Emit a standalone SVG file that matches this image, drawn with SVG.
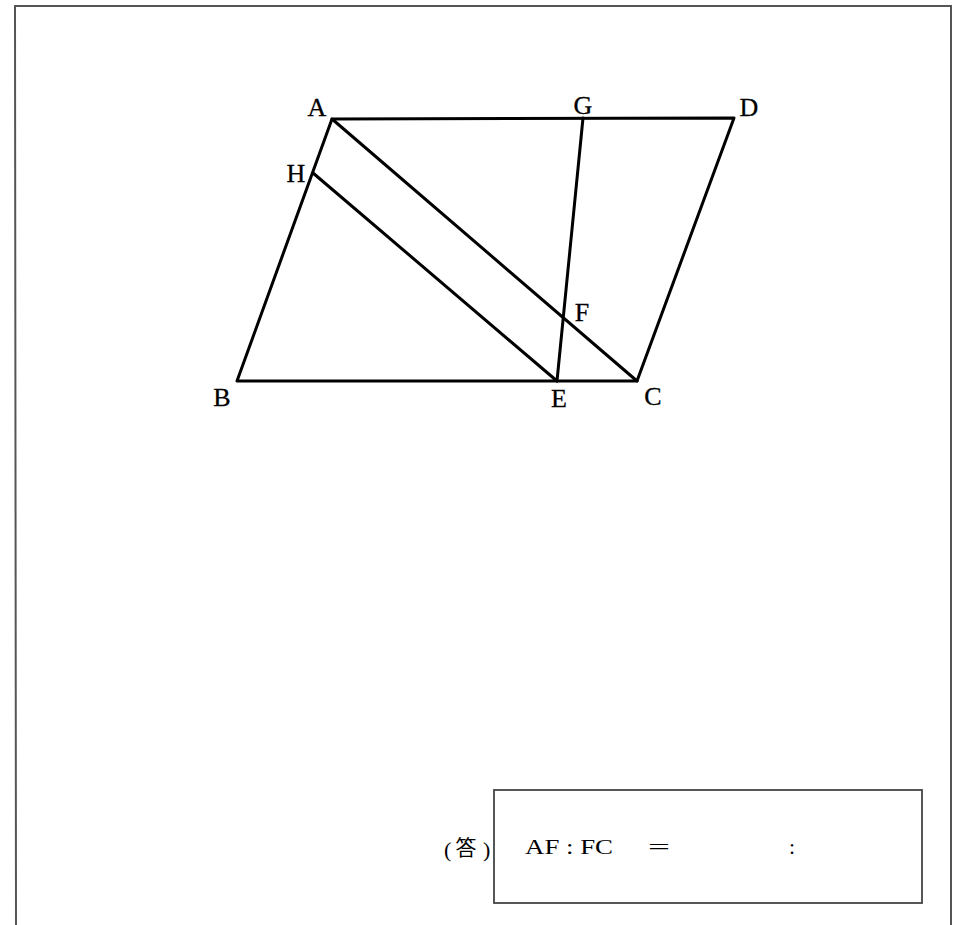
<svg xmlns="http://www.w3.org/2000/svg" width="965" height="925" viewBox="0 0 965 925">
<style>
.frame{fill:none;stroke:#555;stroke-width:2}
.seg{fill:none;stroke:#000;stroke-width:3;stroke-linecap:round;stroke-linejoin:round}
.lbl{font-family:"Liberation Serif","Times New Roman",serif;font-size:26px;fill:#000;text-anchor:middle;stroke:#000;stroke-width:0.3}
.ans{font-family:"Liberation Serif","Times New Roman",serif;font-size:22px;fill:#000}
.box{fill:none;stroke:#444;stroke-width:1.8}
</style>
<rect width="965" height="925" fill="#fff"/>
<path class="frame" d="M16,925 L15,6 L951,6 L951,925"/>
<g id="connectors">
<polygon class="seg" points="332,119 734,118 637,381 237,381"/>
<line class="seg" x1="332" y1="119" x2="637" y2="381"/>
<line class="seg" x1="313" y1="173" x2="557" y2="381"/>
<line class="seg" x1="583" y1="118" x2="557" y2="381"/>
</g>
<g id="A"><text class="lbl" x="317" y="116">A</text></g>
<g id="G"><text class="lbl" x="583" y="114">G</text></g>
<g id="D"><text class="lbl" x="749" y="116">D</text></g>
<g id="H"><text class="lbl" x="296" y="182">H</text></g>
<g id="F"><text class="lbl" x="582" y="321">F</text></g>
<g id="B"><text class="lbl" x="222" y="406">B</text></g>
<g id="E"><text class="lbl" x="559" y="407">E</text></g>
<g id="C"><text class="lbl" x="653" y="405">C</text></g>
<g id="answer">
<text class="ans" x="444" y="857" font-size="24">(</text>
<text x="466" y="855" font-family="'Noto Sans CJK JP',sans-serif" font-size="21" fill="#000" text-anchor="middle">答</text>
<text class="ans" x="483" y="857" font-size="24">)</text>
<rect class="box" x="494" y="790" width="428" height="113"/>
<text class="ans" x="525" y="854" textLength="88" lengthAdjust="spacingAndGlyphs">AF : FC</text>
<text class="ans" x="648" y="854" font-size="25" textLength="22" lengthAdjust="spacingAndGlyphs">=</text>
<text class="ans" x="792" y="854" text-anchor="middle">:</text>
</g>
</svg>
